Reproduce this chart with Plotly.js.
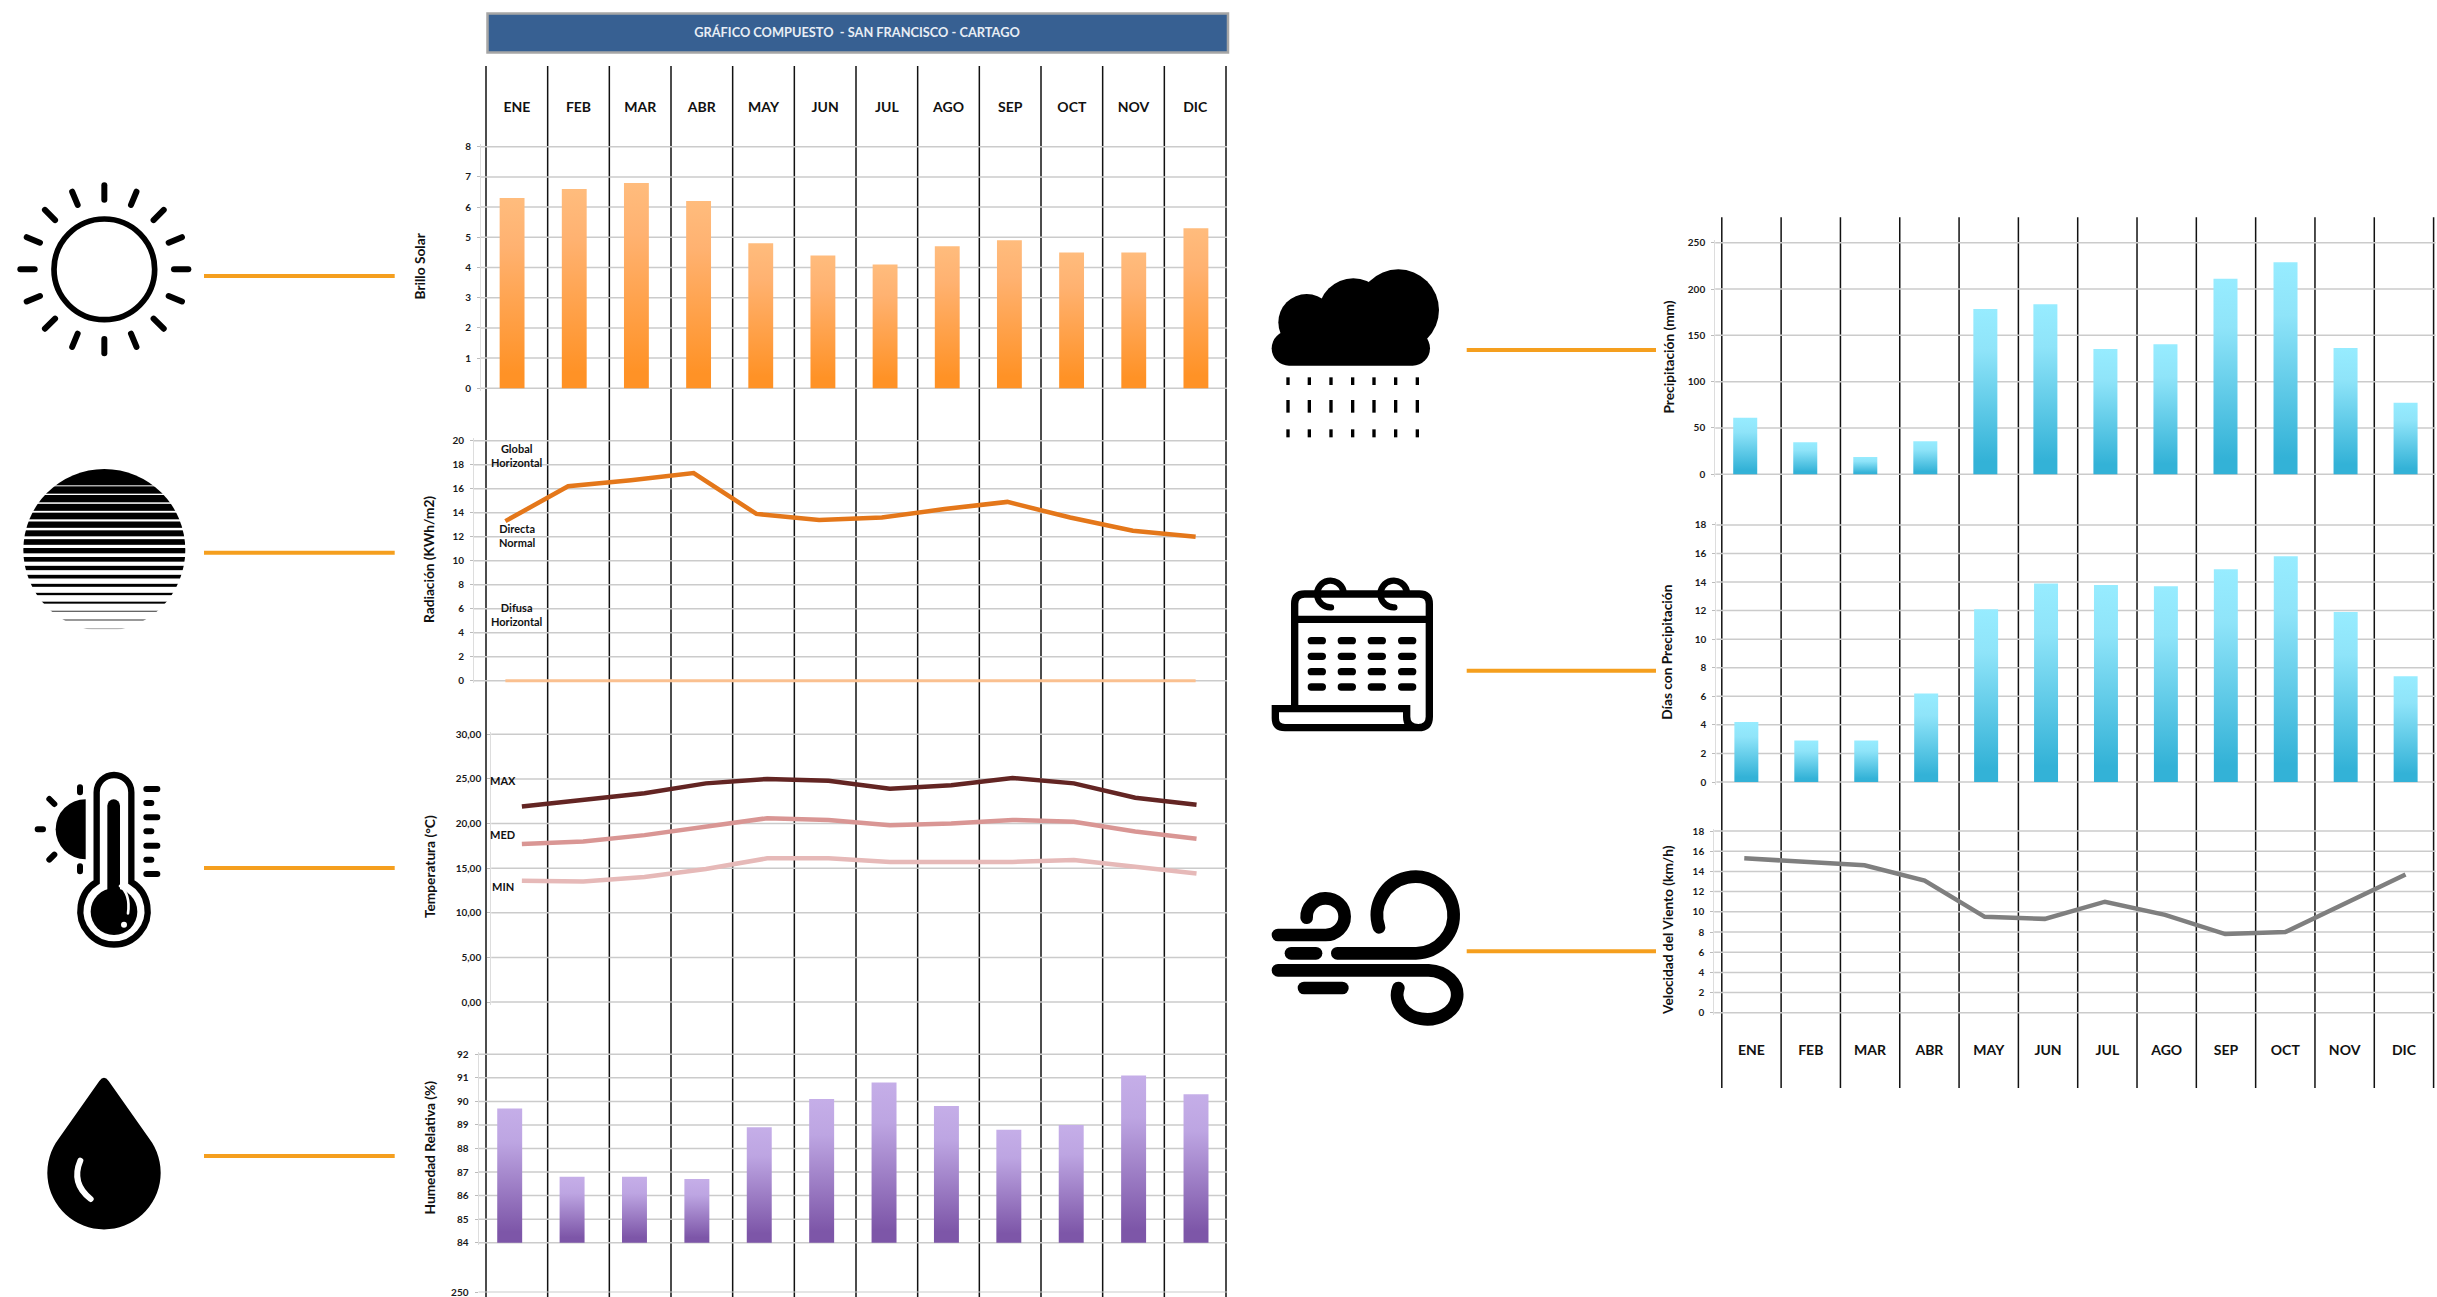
<!DOCTYPE html>
<html><head><meta charset="utf-8">
<script src="https://cdn.plot.ly/plotly-3.0.1.min.js"></script>
<style>html,body{margin:0;padding:0;background:#fff;overflow:hidden}</style></head>
<body><div id="chart" style="width:2437px;height:1297px"></div>
<script>
const W = 2437, H = 1297;
const months = ['ENE','FEB','MAR','ABR','MAY','JUN','JUL','AGO','SEP','OCT','NOV','DIC'];
const brilloSolar = [6.3,6.6,6.8,6.2,4.8,4.4,4.1,4.7,4.9,4.5,4.5,5.3];
const radiacionGlobal = [13.3,16.2,16.7,17.3,13.9,13.4,13.6,14.3,14.9,13.6,12.5,12.0];
const radiacionBase = [0,0,0,0,0,0,0,0,0,0,0,0];
const tempMax = [21.9,22.6,23.4,24.5,25.0,24.8,23.9,24.3,25.1,24.5,22.9,22.1];
const tempMed = [17.7,18.0,18.7,19.7,20.6,20.4,19.8,20.0,20.4,20.2,19.1,18.3];
const tempMin = [13.6,13.5,14.0,14.9,16.1,16.1,15.7,15.7,15.7,15.9,15.2,14.4];
const humedad = [89.7,86.8,86.8,86.7,88.9,90.1,90.8,89.8,88.8,89.0,91.1,90.3];
const precipitacion = [61,34.5,18.7,35.6,178.4,183.5,135.3,140.3,211,229,136.3,77.3];
const diasPrecip = [4.2,2.9,2.9,6.2,12.1,13.9,13.8,13.7,14.9,15.8,11.9,7.4];
const viento = [15.3,15.0,14.6,13.1,9.5,9.3,11.0,9.7,7.8,8.0,10.9,13.7];

const FONT = 'Lato, Carlito, Calibri, sans-serif';
const px = x => x / W, py = y => 1 - y / H;

const layout = {
  width: W, height: H, autosize: false, showlegend: false,
  margin: {l:0, r:0, t:0, b:0, pad:0},
  paper_bgcolor: '#fff', plot_bgcolor: 'rgba(0,0,0,0)',
  separators: ',.', bargap: 0.6,
  font: {family: FONT, color: '#1a1a1a'},
  title: {text: 'GRÁFICO COMPUESTO  - SAN FRANCISCO - CARTAGO', x: px(857), y: py(32.7),
          xref: 'paper', yref: 'paper', xanchor: 'center', yanchor: 'middle',
          font: {family: FONT, size: 12.8, weight: 700, color: '#E8EEF5'}},
  shapes: [], annotations: [], images: []
};
const traces = [];
let n = 0;
function addAxes(xa, ya) { n++; const s = n === 1 ? '' : n;
  layout['xaxis' + s] = Object.assign({anchor: 'y' + s}, xa);
  layout['yaxis' + s] = Object.assign({anchor: 'x' + s}, ya);
  return {xaxis: 'x' + s, yaxis: 'y' + s};
}
function separators(xl, xr, yt, yb, labelY) {
  const pad = 0.04, u = (xr - xl) / 12;
  const ax = addAxes(
    {domain: [px(xl - pad * u), px(xr + pad * u)], range: [-pad, 12 + pad], dtick: 1, tick0: 0, showgrid: true, gridcolor: '#111', gridwidth: 1.5,
     showticklabels: false, ticks: '', zeroline: false, showline: false},
    {domain: [py(yb), py(yt)], range: [yb, yt], showgrid: false, showticklabels: false, ticks: '', zeroline: false, showline: false});
  traces.push(Object.assign({type: 'scatter', mode: 'text', x: months.map((m, i) => i + 0.5), y: months.map(() => labelY),
    text: months, textposition: 'middle center', cliponaxis: false, hoverinfo: 'skip',
    textfont: {family: FONT, size: 14, weight: 700, color: '#111'}}, ax));
}
function panel(p) {
  // 2.5 px of slack so that the first and the last gridline survive Plotly's edge filter
  const slack = p.slack === undefined ? 2.5 : p.slack, u = (p.yb - p.yt) / (p.range[1] - p.range[0]), d = slack / u;
  return addAxes(
    {domain: [px(p.xl), px(p.xr)], type: 'category', categoryorder: 'array', categoryarray: months, range: [-0.5, 11.5],
     showticklabels: false, ticks: '', showgrid: false, zeroline: false, showline: false},
    {domain: [py(p.yb + slack), py(p.yt - slack)], range: [p.range[0] - d, p.range[1] + d], dtick: p.dtick, tick0: p.tick0 || 0, tickformat: p.fmt || '',
     showgrid: true, gridcolor: '#CBCBCB', gridwidth: 1.5, zeroline: false, showline: p.noLine ? false : true, linecolor: '#DDDDDD', linewidth: 1,
     ticks: 'outside', ticklen: 3, tickcolor: '#BBBBBB', ticklabelstandoff: 4, ticklabeloverflow: 'allow',
     tickfont: {family: FONT, size: 10, weight: 700, color: '#1a1a1a'}});
}
function bars(ax, values, base) {
  traces.push(Object.assign({type: 'bar', x: months, y: values.map(v => v - (base || 0)), base: base || 0,
    marker: {color: '#888', line: {width: 0}}, hoverinfo: 'skip'}, ax));
}
function line(ax, values, color, width) {
  traces.push(Object.assign({type: 'scatter', mode: 'lines', x: months, y: values, hoverinfo: 'skip',
    line: {color: color, width: width}}, ax));
}
function axisTitle(text, x, y) {
  layout.annotations.push({text: text, xref: 'paper', yref: 'paper', x: px(x), y: py(y), textangle: -90, showarrow: false,
    xanchor: 'center', yanchor: 'middle', font: {family: FONT, size: 13.7, weight: 700, color: '#111'}});
}
function note(ax, month, yv, text, xshift) {
  layout.annotations.push({text: text, xref: ax.xaxis, yref: ax.yaxis, x: month, y: yv, xshift: xshift, showarrow: false,
    align: 'center', font: {family: FONT, size: 11, weight: 700, color: '#111'}});
}

// vertical month separators and month labels
separators(486, 1226, 66, 1297, 108);
separators(1721.8, 2433.6, 217.3, 1088, 1052);

// left block
const a1 = panel({xl: 481, xr: 1227, yt: 146.7, yb: 388.3, range: [0, 8], dtick: 1});
bars(a1, brilloSolar);
const a2 = panel({xl: 474, xr: 1227, yt: 440.7, yb: 680.7, range: [0, 20], dtick: 2});
line(a2, radiacionBase, '#FAC090', 3);
line(a2, radiacionGlobal, '#E4771A', 4.5);
note(a2, 'ENE', 18.77, 'Global<br>Horizontal', 12);
note(a2, 'ENE', 12.1, 'Directa<br>Normal', 12);
note(a2, 'ENE', 5.5, 'Difusa<br>Horizontal', 12);
const a3 = panel({xl: 491.2, xr: 1227.2, yt: 734.3, yb: 1002, range: [0, 30], dtick: 5, fmt: '.2f'});
line(a3, tempMin, '#E6B9B8', 4.5);
line(a3, tempMed, '#D99694', 4.5);
line(a3, tempMax, '#632523', 4.5);
note(a3, 'ENE', 24.8, 'MAX', -19);
note(a3, 'ENE', 18.75, 'MED', -19);
note(a3, 'ENE', 12.9, 'MIN', -19);
const a4 = panel({xl: 478.5, xr: 1227.2, yt: 1054.3, yb: 1242.7, range: [84, 92], dtick: 1});
bars(a4, humedad, 84);
// the next chart is cut off by the page: only its top gridline and label are left
const a5 = panel({xl: 478.5, xr: 1227.2, yt: 1277, yb: 1297, range: [245, 265], dtick: 50, tick0: 250, slack: 0, noLine: true});
traces.push(Object.assign({type: 'scatter', mode: 'lines', x: [], y: [], hoverinfo: 'skip'}, a5));
layout.yaxis7.gridwidth = 1;

// right block
const a6 = panel({xl: 1715.2, xr: 2435.6, yt: 242.7, yb: 474.3, range: [0, 250], dtick: 50});
bars(a6, precipitacion);
const a7 = panel({xl: 1716.4, xr: 2435.6, yt: 524.9, yb: 782, range: [0, 18], dtick: 2});
bars(a7, diasPrecip);
const a8 = panel({xl: 1714.2, xr: 2435.6, yt: 831, yb: 1012.8, range: [0, 18], dtick: 2});
line(a8, viento, '#7F7F7F', 4.5);

axisTitle('Brillo Solar', 419, 266.5);
axisTitle('Radiación (KWh/m2)', 429, 560);
axisTitle('Temperatura (°C)', 429, 867);
axisTitle('Humedad Relativa (%)', 429, 1147.5);
axisTitle('Precipitación (mm)', 1668, 357.5);
axisTitle('Días con Precipitación', 1667, 652.7);
axisTitle('Velocidad del Viento (km/h)', 1667, 930);

// title band
layout.shapes.push({type: 'rect', xref: 'paper', yref: 'paper', x0: px(487.5), x1: px(1228), y0: py(13.5), y1: py(52.5),
  fillcolor: '#376092', line: {color: '#A6A6A6', width: 2.5}, layer: 'above'});
// orange connectors
[[204, 394.7, 276], [204, 394.7, 552.7], [204, 394.7, 868], [204, 394.7, 1156],
 [1466.7, 1656, 350], [1466.7, 1656, 670.7], [1466.7, 1656, 951.3]].forEach(c => {
  layout.shapes.push({type: 'line', xref: 'paper', yref: 'paper', x0: px(c[0]), x1: px(c[1]), y0: py(c[2]), y1: py(c[2]),
    line: {color: '#F59F1E', width: 4}});
});

// icons
function sunIcon() {
  let s = '<g transform="translate(0,160) scale(.33333)" stroke="#000" stroke-linecap="round" fill="none">' +
    '<circle cx="313" cy="328" r="151" stroke-width="17"/>';
  for (let i = 0; i < 16; i++) {
    const t = i * Math.PI / 8, c = Math.cos(t), d = Math.sin(t);
    s += `<line x1="${313 + 209 * c}" y1="${328 + 209 * d}" x2="${313 + 252 * c}" y2="${328 + 252 * d}" stroke-width="18"/>`;
  }
  return s + '</g>';
}
function stripedSun() {
  const widths = [3,4,4,6,7,9,11,13,14,16,17,18,19,20,21,22,22];
  let s = '<g transform="translate(0,160) scale(.33333)"><clipPath id="sc"><circle cx="313" cy="1170" r="243"/></clipPath><g clip-path="url(#sc)">';
  widths.forEach((w, k) => { const y = 1406 - 26 * k; s += `<rect x="60" y="${y - w / 2}" width="510" height="${w}" fill="${k < 3 ? (k === 0 ? '#aaa' : '#666') : '#000'}"/>`; });
  s += '<rect x="60" y="920" width="510" height="56" fill="#000"/>';
  return s + '</g></g>';
}
function thermoIcon() {
  let s = '<g transform="translate(0,750) scale(.33333)">';
  s += '<path d="M290,127 V396 A101,101 0 1 0 394,396 V127 A52,52 0 0 0 290,127 Z" fill="none" stroke="#000" stroke-width="19"/>';
  s += '<rect x="322" y="148" width="38" height="300" rx="19" fill="#000"/><circle cx="342" cy="485" r="70" fill="#000"/>';
  s += '<path d="M360,408 Q392,432 384,490" fill="none" stroke="#fff" stroke-width="8" stroke-linecap="round"/><circle cx="372" cy="524" r="9" fill="#fff"/>';
  s += '<path d="M257,148 A90,90 0 0 0 257,328 Z" fill="#000"/>';
  s += '<g stroke="#000" stroke-width="18" stroke-linecap="round"><path d="M240,112 V127 M240,349 V364 M113,238 H129 M148,147 L163,162 M148,329 L163,314"/>';
  s += '<path d="M439,117 H472 M439,159 H454 M439,202 H472 M439,244 H454 M439,287 H472 M439,329 H454 M439,372 H472"/></g></g>';
  return s;
}
function dropIcon() {
  return '<g transform="translate(0,750) scale(.33333)"><path d="M298,993 Q312,974 326,993 L447,1165 A170,170 0 1 1 177,1165 Z" fill="#000"/>' +
    '<path d="M241,1232 Q212,1300 272,1347" fill="none" stroke="#fff" stroke-width="18" stroke-linecap="round"/></g>';
}
function cloudIcon() {
  let s = '<g transform="translate(1250,250) scale(.33333)" fill="#000"><circle cx="445" cy="180" r="122"/><circle cx="310" cy="190" r="105"/><circle cx="170" cy="217" r="85"/><rect x="65" y="243" width="475" height="104" rx="52"/>';
  [114,178,243,308,372,437,502].forEach(x => {
    s += `<rect x="${x - 5}" y="382" width="10" height="23"/><rect x="${x - 5}" y="450" width="10" height="38"/><rect x="${x - 5}" y="538" width="10" height="24"/>`;
  });
  return s + '</g>';
}
function calendarIcon() {
  let s = '<g transform="translate(1250,250) scale(.33333)"><path d="M134,1375 V1062 Q134,1032 164,1032 H508 Q538,1032 538,1062 V1400 Q538,1433 505,1433 H105 Q76,1433 76,1405 V1376 H470 V1400 Q470,1433 505,1433 M134,1108 H538" fill="none" stroke="#000" stroke-width="22"/>';
  s += '<g fill="none" stroke="#000" stroke-width="19" stroke-linecap="round"><path d="M280,1022 A40,40 0 1 0 243,1072"/><path d="M470,1022 A40,40 0 1 0 433,1072"/></g>';
  [1172,1219,1265,1311].forEach(y => [173,263,353,444].forEach(x => { s += `<rect x="${x}" y="${y - 11}" width="55" height="22" rx="11" fill="#000"/>`; }));
  return s + '</g>';
}
function windIcon() {
  return '<g transform="translate(1250,840) scale(.33333)" fill="none" stroke="#000" stroke-width="38" stroke-linecap="round">' +
    '<path d="M84,285 H226 A57,55 0 1 0 170,233"/><path d="M262,340 H498 A115,115 0 1 0 387,262"/>' +
    '<path d="M84,391 H536 A90,73.5 0 1 1 445,444"/><path d="M123,340 H198"/><path d="M162,444 H277"/></g>';
}
const iconSvg = `<svg xmlns="http://www.w3.org/2000/svg" width="${W}" height="${H}" viewBox="0 0 ${W} ${H}">` +
  sunIcon() + stripedSun() + thermoIcon() + dropIcon() + cloudIcon() + calendarIcon() + windIcon() + '</svg>';
layout.images.push({source: 'data:image/svg+xml;charset=utf-8,' + encodeURIComponent(iconSvg), xref: 'paper', yref: 'paper',
  x: 0, y: 1, sizex: 1, sizey: 1, xanchor: 'left', yanchor: 'top', sizing: 'stretch', layer: 'below'});

// vertical gradient fills of the bars
const gradients = {orange: ['#FFBC7D', '#FFB271', '#FF9226'], purple: ['#C5AEE8', '#BDA5E2', '#7D56A8'], blue: ['#97ECFF', '#8FE4F9', '#33B2D7']};
const gradientBySubplot = {x3y3: 'orange', x6y6: 'purple', x8y8: 'blue', x9y9: 'blue'};

Plotly.newPlot('chart', traces, layout, {displayModeBar: false, staticPlot: true}).then(gd => {
  const NS = 'http://www.w3.org/2000/svg';
  const svg = document.createElementNS(NS, 'svg');
  svg.setAttribute('style', 'position:absolute;width:0;height:0');
  const defs = document.createElementNS(NS, 'defs');
  Object.keys(gradients).forEach(k => {
    const g = document.createElementNS(NS, 'linearGradient');
    g.id = 'grad-' + k; g.setAttribute('x1', '0'); g.setAttribute('y1', '0'); g.setAttribute('x2', '0'); g.setAttribute('y2', '1');
    [0, 0.25, 0.92].forEach((o, i) => { const st = document.createElementNS(NS, 'stop');
      st.setAttribute('offset', o); st.setAttribute('stop-color', gradients[k][i]); g.appendChild(st); });
    defs.appendChild(g);
  });
  svg.appendChild(defs); document.body.appendChild(svg);
  Object.keys(gradientBySubplot).forEach(id => {
    gd.querySelectorAll('.subplot.' + id + ' .bars .point path').forEach(p => { p.style.fill = 'url(#grad-' + gradientBySubplot[id] + ')'; });
  });
  gd.querySelectorAll('.gridlayer path').forEach(p => { p.style.shapeRendering = 'auto'; });
});
</script></body></html>
